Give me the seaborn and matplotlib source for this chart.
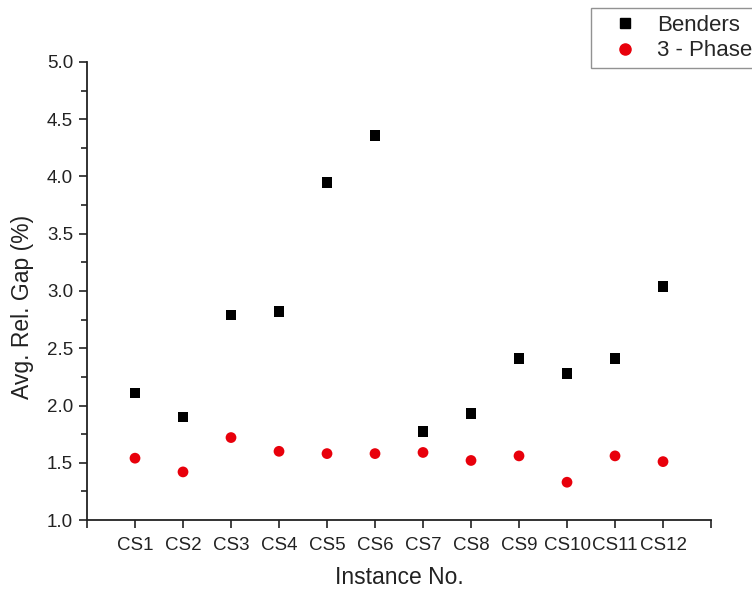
import pandas as pd
import matplotlib
matplotlib.use("Agg")
import matplotlib.pyplot as plt
from matplotlib.ticker import MultipleLocator
import seaborn as sns

# data
instances = ["CS1", "CS2", "CS3", "CS4", "CS5", "CS6",
             "CS7", "CS8", "CS9", "CS10", "CS11", "CS12"]
benders = [2.11, 1.90, 2.79, 2.82, 3.95, 4.36, 1.77, 1.93, 2.41, 2.28, 2.41, 3.04]
three_phase = [1.54, 1.42, 1.72, 1.60, 1.58, 1.58, 1.59, 1.52, 1.56, 1.33, 1.56, 1.51]
methods = ["Benders", "3 - Phase"]
y_ticks = [1.0, 1.5, 2.0, 2.5, 3.0, 3.5, 4.0, 4.5, 5.0]

pos = list(range(1, len(instances) + 1))
df = pd.DataFrame({
    "pos": pos * 2,
    "gap": benders + three_phase,
    "method": [methods[0]] * len(pos) + [methods[1]] * len(pos),
})

sns.set_style("ticks")
plt.rcParams["font.family"] = ["Liberation Sans", "DejaVu Sans"]

fig = plt.figure(figsize=(7.52, 5.92), dpi=100)
ax = fig.add_axes([0.1157, 0.1216, 0.8298, 0.7737])

sns.scatterplot(
    data=df, x="pos", y="gap", hue="method", style="method",
    hue_order=methods, style_order=methods,
    palette={"Benders": "black", "3 - Phase": "#e8000b"},
    markers={"Benders": "s", "3 - Phase": "o"},
    s=60, linewidth=0, ax=ax, legend=False,
)

ax.set_xlim(0, 13)
ax.set_xticks([0] + pos + [13])
ax.set_xticklabels([""] + instances + [""], fontsize=13.5, color="#222222")
ax.set_yticks(y_ticks)
ax.set_yticklabels([f"{v:.1f}" for v in y_ticks], fontsize=13.5, color="#222222")
ax.yaxis.set_minor_locator(MultipleLocator(0.25))
ax.set_ylim(1.0, 5.0)
ax.tick_params(axis="both", which="major", length=6, width=1.2, color="#222222")
ax.tick_params(axis="x", which="major", pad=6)
ax.tick_params(axis="y", which="major", pad=4)
ax.tick_params(axis="y", which="minor", length=4, width=1.2, color="#222222")
for sp in ["left", "bottom"]:
    ax.spines[sp].set_linewidth(1.3)
    ax.spines[sp].set_color("#222222")
sns.despine(ax=ax)

ax.set_xlabel("Instance No.", fontsize=16.5, labelpad=9, color="#222222")
ax.set_ylabel("Avg. Rel. Gap (%)", fontsize=16.5, color="#222222")
ax.yaxis.set_label_coords(-0.085, 0.465)

handles = [
    plt.Line2D([], [], marker="s", color="black", linestyle="none", markersize=7),
    plt.Line2D([], [], marker="o", color="#e8000b", linestyle="none", markersize=8),
]
leg = fig.legend(handles, methods, loc="upper left", bbox_to_anchor=(0.786, 0.986),
                 borderaxespad=0, frameon=True, fancybox=False, fontsize=16,
                 handletextpad=0.2, borderpad=0.3, labelspacing=0.2, handlelength=2.45)
leg.get_frame().set_edgecolor("#777777")
leg.get_frame().set_linewidth(1.0)

fig.savefig("out.png", dpi=100)
